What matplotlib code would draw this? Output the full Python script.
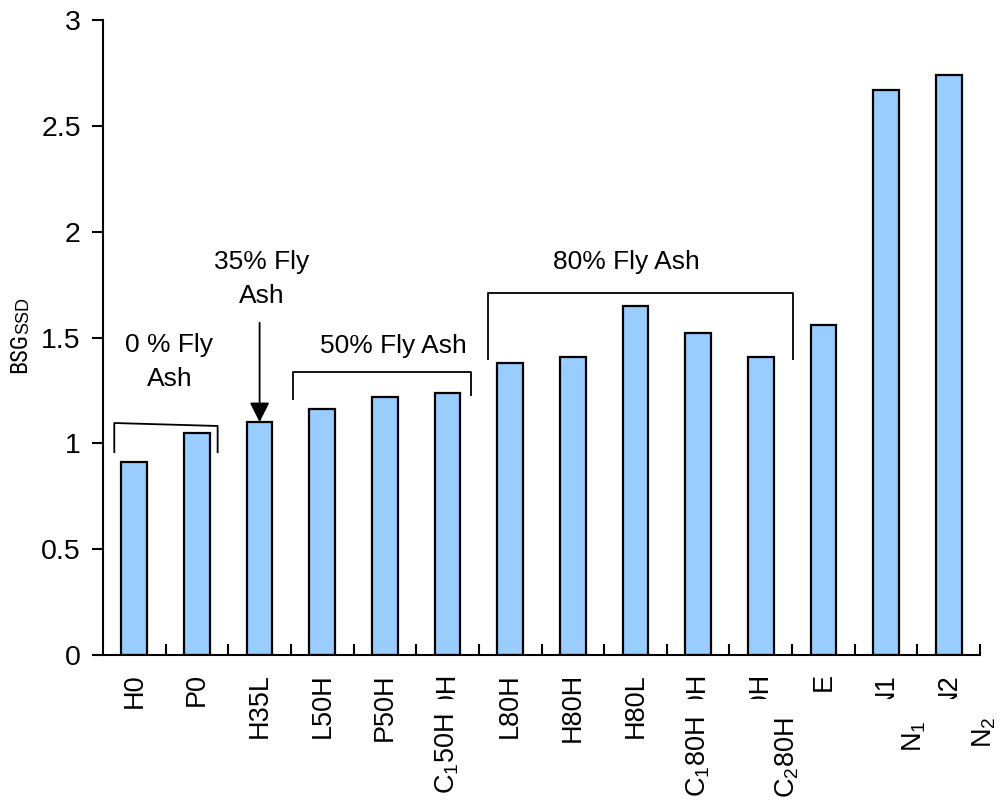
import matplotlib
matplotlib.use("Agg")
import matplotlib.pyplot as plt
import matplotlib.transforms as mtransforms
from matplotlib import font_manager
from matplotlib.patches import Rectangle
from matplotlib.ticker import FixedLocator, FormatStrFormatter

plt.rcParams["font.family"] = ["Liberation Sans", "DejaVu Sans"]
plt.rcParams["mathtext.fontset"] = "custom"
plt.rcParams["mathtext.rm"] = "Liberation Sans"
plt.rcParams["mathtext.it"] = "Liberation Sans:italic"

# Mix designs and their BSG (SSD) values
mixes = ["H0", "P0", "H35L", "L50H", "P50H", "C150H", "L80H",
         "H80H", "H80L", "C180H", "C280H", "E", "N1", "N2"]
bsg_ssd = [0.91, 1.05, 1.10, 1.16, 1.22, 1.24, 1.38,
           1.41, 1.65, 1.52, 1.41, 1.56, 2.67, 2.74]
# Subscripted names written over the plain tick labels
sub_labels = {"C150H": r"C$_1$50H", "C180H": r"C$_1$80H",
              "C280H": r"C$_2$80H", "N1": r"N$_1$", "N2": r"N$_2$"}
y_ticks = [0, 0.5, 1, 1.5, 2, 2.5, 3]


def condensed_font():
    """Return (family, stretch) of an installed condensed sans face, or None."""
    entries = font_manager.fontManager.ttflist
    for name in ("Liberation Sans Narrow", "Roboto Condensed",
                 "Open Sans Condensed", "DejaVu Sans Condensed"):
        if any(f.name == name for f in entries):
            return name, "normal"
    for name in ("DejaVu Sans", "Open Sans", "Roboto", "Noto Sans"):
        if any(f.name == name and str(f.stretch) in ("condensed", "semi-condensed")
               for f in entries):
            return name, "condensed"
    return None


W, H = 1000, 802
fig = plt.figure(figsize=(W / 100, H / 100), dpi=100)
ax = fig.add_axes([103 / W, 1 - 655 / H, 877 / W, 635 / H])

x = list(range(len(mixes)))
ax.bar(x, bsg_ssd, width=0.41, color="#99CCFF", edgecolor="black",
       linewidth=1.6, zorder=2)

ax.set_xlim(-0.5, len(mixes) - 0.5)
ax.set_ylim(0, 3)
ax.set_yticks(y_ticks)
ax.yaxis.set_major_formatter(FormatStrFormatter("%g"))
ax.set_xticks(x)
ax.set_xticklabels(mixes, rotation=90, va="top", ha="center")
ax.xaxis.set_minor_locator(FixedLocator([i + 0.5 for i in x]))

for s in ("top", "right"):
    ax.spines[s].set_visible(False)
for s in ("left", "bottom"):
    ax.spines[s].set_linewidth(1.5)

ax.tick_params(axis="y", direction="out", length=8, width=1.5,
               labelsize=20.5, pad=8)
ax.tick_params(axis="x", which="major", length=0, labelsize=19.5, pad=13)
ax.tick_params(axis="x", which="minor", direction="in", length=8, width=1.5)

# y-axis title: BSG with SSD subscript
cond = condensed_font()
if cond:
    fig.text(20 / W, 1 - 373 / H, "BSG", rotation=90, ha="center",
             va="bottom", family=cond[0], fontstretch=cond[1], fontsize=17.5)
else:
    fig.text(20 / W, 1 - 373 / H, "BSG", rotation=90, ha="center",
             va="bottom", fontsize=12.5)
fig.text(24 / W, 1 - 334 / H, "SSD", rotation=90, ha="center", va="bottom",
         fontsize=13)

# Subscripted labels placed over the lower part of the plain tick labels
trans = mtransforms.blended_transform_factory(ax.transData, fig.transFigure)
sub_pos = {"C150H": (0.0, 713, -0.45, 0.45),
           "C180H": (0.0, 716, -0.45, 0.45),
           "C280H": (0.43, 717, -0.3, 0.75),
           "N1": (0.45, 720, -0.45, 0.85),
           "N2": (0.57, 717, -0.45, 0.9)}
for name, label in sub_labels.items():
    i = mixes.index(name)
    dx, top_px, left, right = sub_pos[name]
    cover = Rectangle((i + left, 0), right - left, 1 - 699 / H,
                      transform=trans, facecolor="white", edgecolor="none",
                      clip_on=False, zorder=9)
    ax.add_artist(cover)
    ax.text(i + dx, 1 - top_px / H, label, transform=trans, rotation=90,
            ha="center", va="top", fontsize=19.5, clip_on=False, zorder=10)

# Group brackets
line_kw = dict(color="black", lw=1.3, clip_on=False, zorder=3,
               solid_capstyle="butt")
ax.plot([-0.32, -0.32, 1.33, 1.33], [0.954, 1.096, 1.082, 0.954], **line_kw)
ax.plot([2.54, 2.54, 5.38, 5.38], [1.205, 1.337, 1.337, 1.224], **line_kw)
ax.plot([5.64, 5.64, 10.52, 10.52], [1.394, 1.71, 1.71, 1.394], **line_kw)

# Arrow to the 35% fly ash mix
ax.annotate("", xy=(2, bsg_ssd[2]), xytext=(2, 1.57),
            arrowprops=dict(arrowstyle="-|>,head_length=0.6,head_width=0.3",
                            color="black", lw=1.3, mutation_scale=20,
                            shrinkA=0, shrinkB=0))

txt_kw = dict(fontsize=19, ha="center", va="center", linespacing=1.5)
ax.text(0.56, 1.384, "0 % Fly\nAsh", **txt_kw)
ax.text(2.03, 1.776, "35% Fly\nAsh", **txt_kw)
ax.text(4.13, 1.46, "50% Fly Ash", **txt_kw)
ax.text(7.85, 1.857, "80% Fly Ash", **txt_kw)

fig.savefig("out.png", dpi=100)
